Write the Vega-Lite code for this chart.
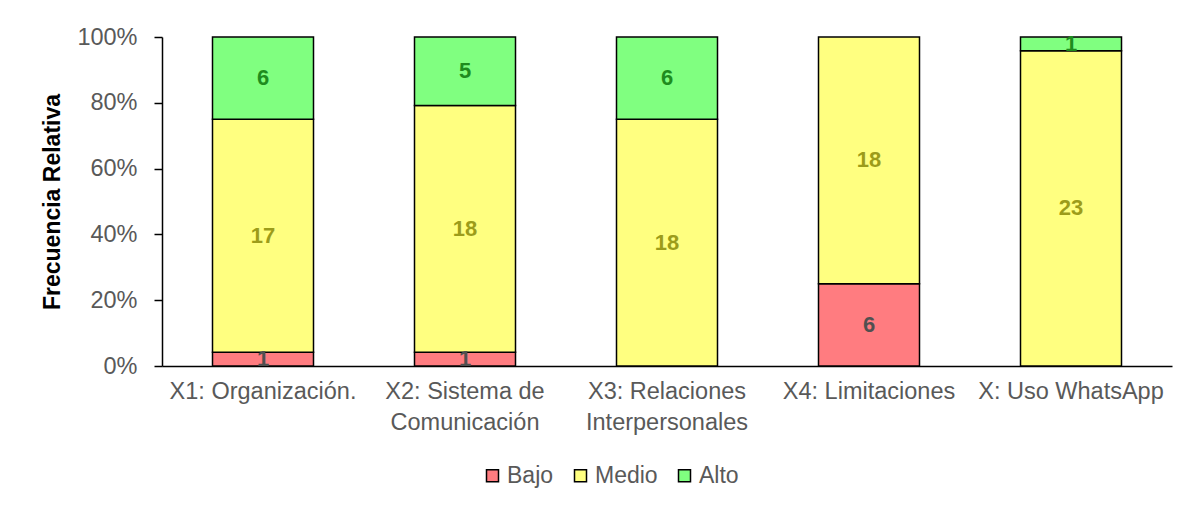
{
  "$schema": "https://vega.github.io/schema/vega-lite/v6.json",
  "width": 1010,
  "height": 329,
  "autosize": {"type": "none"},
  "padding": {"left": 162, "top": 37, "right": 24, "bottom": 140},
  "background": "white",
  "config": {
    "view": {"stroke": null},
    "font": "Liberation Sans"
  },
  "data": {
    "values": [
      {"dim": "X1: Organización.", "nivel": "Bajo", "rank": 1, "n": 1},
      {"dim": "X1: Organización.", "nivel": "Medio", "rank": 2, "n": 17},
      {"dim": "X1: Organización.", "nivel": "Alto", "rank": 3, "n": 6},
      {"dim": "X2: Sistema de\nComunicación", "nivel": "Bajo", "rank": 1, "n": 1},
      {"dim": "X2: Sistema de\nComunicación", "nivel": "Medio", "rank": 2, "n": 18},
      {"dim": "X2: Sistema de\nComunicación", "nivel": "Alto", "rank": 3, "n": 5},
      {"dim": "X3: Relaciones\nInterpersonales", "nivel": "Medio", "rank": 2, "n": 18},
      {"dim": "X3: Relaciones\nInterpersonales", "nivel": "Alto", "rank": 3, "n": 6},
      {"dim": "X4: Limitaciones", "nivel": "Bajo", "rank": 1, "n": 6},
      {"dim": "X4: Limitaciones", "nivel": "Medio", "rank": 2, "n": 18},
      {"dim": "X: Uso WhatsApp", "nivel": "Medio", "rank": 2, "n": 23},
      {"dim": "X: Uso WhatsApp", "nivel": "Alto", "rank": 3, "n": 1}
    ]
  },
  "encoding": {
    "x": {
      "field": "dim",
      "type": "nominal",
      "sort": null,
      "scale": {"paddingInner": 0.5, "paddingOuter": 0.25},
      "axis": {
        "title": null,
        "labelAngle": 0,
        "labelExpr": "split(datum.label, '\\n')",
        "labelFont": "Liberation Sans",
        "labelFontSize": 23.5,
        "labelColor": "#595959",
        "labelLineHeight": 31,
        "labelPadding": 13,
        "ticks": false,
        "domainColor": "#000000",
        "domainWidth": 1.5,
        "labelLimit": 300
      }
    },
    "y": {
      "field": "n",
      "type": "quantitative",
      "stack": "normalize",
      "scale": {"domain": [0, 1]},
      "axis": {
        "title": "Frecuencia Relativa",
        "titleFont": "Liberation Sans",
        "titleFontSize": 23,
        "titleFontWeight": "bold",
        "titleColor": "#000000",
        "titlePadding": 12,
        "format": ".0%",
        "values": [0, 0.2, 0.4, 0.6, 0.8, 1],
        "grid": false,
        "labelFont": "Liberation Sans",
        "labelFontSize": 23.5,
        "labelColor": "#595959",
        "labelPadding": 17,
        "tickSize": 8,
        "tickColor": "#000000",
        "tickWidth": 1.5,
        "domainColor": "#000000",
        "domainWidth": 1.5
      }
    },
    "order": {"field": "rank", "type": "quantitative"}
  },
  "layer": [
    {
      "mark": {"type": "bar", "stroke": "#000000", "strokeWidth": 1.5},
      "encoding": {
        "color": {
          "field": "nivel",
          "type": "nominal",
          "scale": {"domain": ["Bajo", "Medio", "Alto"], "range": ["#FF7C80", "#FFFF80", "#80FF80"]},
          "legend": {
            "title": null,
            "orient": "none",
            "legendX": 319,
            "legendY": 427,
            "direction": "horizontal",
            "symbolType": "square",
            "symbolSize": 144,
            "symbolStrokeColor": "#000000",
            "symbolStrokeWidth": 1.5,
            "labelFont": "Liberation Sans",
            "labelFontSize": 23,
            "labelColor": "#595959",
            "labelOffset": 3,
            "columnPadding": 15
          }
        }
      }
    },
    {
      "mark": {"type": "text", "fontSize": 22, "fontWeight": "bold", "font": "Liberation Sans", "baseline": "middle"},
      "encoding": {
        "y": {"field": "n", "type": "quantitative", "stack": "normalize", "bandPosition": 0.5},
        "text": {"field": "n", "type": "quantitative"},
        "fill": {
          "field": "nivel",
          "type": "nominal",
          "scale": {"domain": ["Bajo", "Medio", "Alto"], "range": ["#505050", "#9C9C1A", "#1E8C1E"]},
          "legend": null
        }
      }
    }
  ]
}
